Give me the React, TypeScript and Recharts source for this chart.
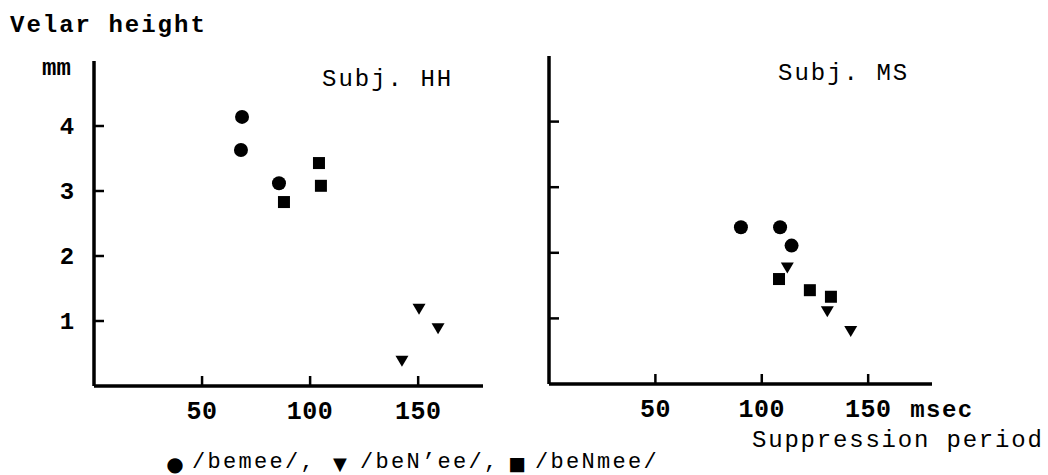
import { ScatterChart, Scatter, XAxis, YAxis } from 'recharts';

// Subj. HH
const hhBemee = [
  { x: 68.5, y: 4.14 },
  { x: 68.0, y: 3.63 },
  { x: 85.6, y: 3.12 },
];
const hhBeNee = [
  { x: 142.5, y: 0.38 },
  { x: 150.4, y: 1.18 },
  { x: 159.2, y: 0.88 },
];
const hhBeNmee = [
  { x: 87.9, y: 2.83 },
  { x: 104.1, y: 3.43 },
  { x: 105.0, y: 3.08 },
];

// Subj. MS
const msBemee = [
  { x: 90.2, y: 2.39 },
  { x: 108.6, y: 2.39 },
  { x: 114.0, y: 2.11 },
];
const msBeNee = [
  { x: 112.0, y: 1.77 },
  { x: 130.8, y: 1.1 },
  { x: 141.8, y: 0.8 },
];
const msBeNmee = [
  { x: 108.1, y: 1.6 },
  { x: 122.6, y: 1.43 },
  { x: 132.5, y: 1.33 },
];

const xTicks = [50, 100, 150];
const yTicks = [1, 2, 3, 4];

const FONT = '"Liberation Mono", "DejaVu Sans Mono", monospace';
const SYMBOL_FONT = '"DejaVu Sans", sans-serif';

const Dot = (p: any) => <circle cx={p.cx} cy={p.cy} r={7} fill="#000" />;
const Square = (p: any) => (
  <rect x={p.cx - 6} y={p.cy - 6} width={12} height={12} fill="#000" />
);
const DownTriangle = (p: any) => (
  <path
    d={`M${p.cx - 6.5},${p.cy - 5.5}L${p.cx + 6.5},${p.cy - 5.5}L${p.cx},${p.cy + 5.5}Z`}
    fill="#000"
  />
);

// inward tick mark plus label below the axis
const makeXTick = (withUnit: boolean) => (props: any) => {
  const { x, y, payload } = props;
  return (
    <g>
      <line x1={x} y1={y} x2={x} y2={y - 10} stroke="#000" strokeWidth={2.5} />
      <text
        x={x}
        y={y + 33}
        textAnchor="middle"
        fontFamily={FONT}
        fontSize={25}
        fontWeight="bold"
        letterSpacing={0.5}
        fill="#000"
      >
        {payload.value}
      </text>
      {withUnit && payload.value === 150 && (
        <text
          x={x + 42}
          y={y + 33}
          fontFamily={FONT}
          fontSize={24}
          fontWeight="bold"
          letterSpacing={1.5}
          fill="#000"
        >
          msec
        </text>
      )}
    </g>
  );
};

const makeYTick = (withLabel: boolean) => (props: any) => {
  const { x, y, payload } = props;
  return (
    <g>
      <line x1={x} y1={y} x2={x + 10} y2={y} stroke="#000" strokeWidth={2.5} />
      {withLabel && (
        <text
          x={x - 27}
          y={y + 8}
          textAnchor="middle"
          fontFamily={FONT}
          fontSize={24}
          fontWeight="bold"
          fill="#000"
        >
          {payload.value}
        </text>
      )}
    </g>
  );
};

interface PanelProps {
  left: number;
  width: number;
  axisWidth: number;
  top: number;
  plotW: number;
  plotH: number;
  yLabels: boolean;
  unit: boolean;
  bemee: { x: number; y: number }[];
  beNee: { x: number; y: number }[];
  beNmee: { x: number; y: number }[];
}

function Panel(p: PanelProps) {
  const xAxisHeight = 30;
  return (
    <div style={{ position: 'absolute', left: p.left, top: 0 }}>
      <ScatterChart
        width={p.width}
        height={475}
        margin={{
          top: p.top,
          right: p.width - p.axisWidth - p.plotW,
          bottom: 475 - p.top - p.plotH - xAxisHeight,
          left: 0,
        }}
      >
        <XAxis
          type="number"
          dataKey="x"
          domain={[0, 180]}
          ticks={xTicks}
          height={xAxisHeight}
          tickSize={0}
          tickMargin={0}
          tickLine={false}
          axisLine={{ stroke: '#000', strokeWidth: 3.5 }}
          tick={makeXTick(p.unit)}
          allowDataOverflow
        />
        <YAxis
          type="number"
          dataKey="y"
          domain={[0, 5]}
          ticks={yTicks}
          width={p.axisWidth}
          tickSize={0}
          tickMargin={0}
          tickLine={false}
          axisLine={{ stroke: '#000', strokeWidth: 3.5 }}
          tick={makeYTick(p.yLabels)}
          allowDataOverflow
        />
        <Scatter data={p.bemee} shape={Dot} isAnimationActive={false} />
        <Scatter data={p.beNee} shape={DownTriangle} isAnimationActive={false} />
        <Scatter data={p.beNmee} shape={Square} isAnimationActive={false} />
      </ScatterChart>
    </div>
  );
}

export default function App() {
  return (
    <div
      style={{
        position: 'absolute',
        left: 0,
        top: 0,
        width: 1048,
        height: 475,
        background: '#fff',
        overflow: 'hidden',
      }}
    >
      <Panel
        left={0}
        width={520}
        axisWidth={94}
        top={61}
        plotW={389}
        plotH={325}
        yLabels
        unit={false}
        bemee={hhBemee}
        beNee={hhBeNee}
        beNmee={hhBeNmee}
      />
      <Panel
        left={520}
        width={528}
        axisWidth={29}
        top={56}
        plotW={383}
        plotH={328}
        yLabels={false}
        unit
        bemee={msBemee}
        beNee={msBeNee}
        beNmee={msBeNmee}
      />
      <svg
        width={1048}
        height={475}
        style={{ position: 'absolute', left: 0, top: 0, pointerEvents: 'none' }}
        fontFamily={FONT}
        fill="#000"
      >
        <text x={10} y={32} fontSize={24} fontWeight="bold" letterSpacing={2}>
          Velar height
        </text>
        <text x={42} y={75} fontSize={24} fontWeight="bold">
          mm
        </text>
        <text x={322} y={86} fontSize={24} letterSpacing={2}>
          Subj. HH
        </text>
        <text x={778} y={80} fontSize={24} letterSpacing={2}>
          Subj. MS
        </text>
        <text x={752} y={447} fontSize={24} letterSpacing={1.8}>
          Suppression period
        </text>
        {/* key to the three utterance types */}
        <text x={175} y={471} fontSize={20} fontFamily={SYMBOL_FONT} textAnchor="middle">
          ●
        </text>
        <text x={192} y={468} fontSize={22} letterSpacing={2.3}>
          /bemee/,
        </text>
        <text x={340} y={469.5} fontSize={18} fontFamily={SYMBOL_FONT} textAnchor="middle">
          ▼
        </text>
        <text x={360} y={468} fontSize={22} letterSpacing={2.3}>
          /beN’ee/,
        </text>
        <text x={517} y={470} fontSize={18.5} fontFamily={SYMBOL_FONT} textAnchor="middle">
          ■
        </text>
        <text x={535} y={468} fontSize={22} letterSpacing={2.3}>
          /beNmee/
        </text>
      </svg>
    </div>
  );
}
